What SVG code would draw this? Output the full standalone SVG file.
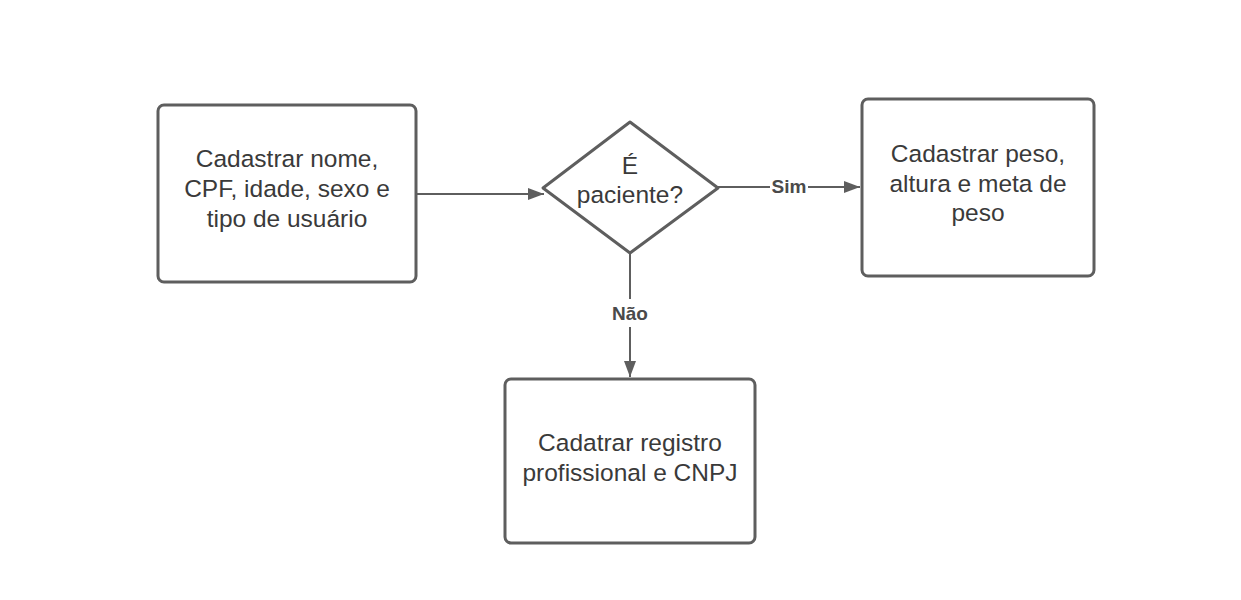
<svg xmlns="http://www.w3.org/2000/svg" width="1241" height="600" viewBox="0 0 1241 600">
<defs>
<style>
.box{fill:#fff;stroke:#5e5e5e;stroke-width:3}
.t{font-family:"Liberation Sans",Arial,sans-serif;font-size:24.5px;fill:#3a3a3a;text-anchor:middle}
.lbl{font-family:"Liberation Sans",Arial,sans-serif;font-size:19px;font-weight:bold;fill:#4a4a4a;text-anchor:middle}
.c{stroke:#5e5e5e;stroke-width:2;fill:none}
</style>
<marker id="ah" markerWidth="16" markerHeight="12" refX="16" refY="6" orient="auto" markerUnits="userSpaceOnUse">
<path d="M0,0 L16,6 L0,12 Z" fill="#5e5e5e"/>
</marker>
</defs>
<rect width="1241" height="600" fill="#fff"/>
<g id="connectors">
<line class="c" x1="417" y1="194" x2="544" y2="194" marker-end="url(#ah)"/>
<line class="c" x1="718" y1="187" x2="770" y2="187"/>
<line class="c" x1="808" y1="187" x2="860" y2="187" marker-end="url(#ah)"/>
<line class="c" x1="630" y1="253" x2="630" y2="299" stroke-width="3"/>
<line class="c" x1="630" y1="327" x2="630" y2="377" stroke-width="3" marker-end="url(#ah)"/>
<text class="lbl" x="789" y="193">Sim</text>
<text class="lbl" x="630" y="320">Não</text>
</g>
<g id="node1">
<rect class="box" x="158" y="105" width="258" height="177" rx="6"/>
<text class="t" x="287" y="167">Cadastrar nome,</text>
<text class="t" x="287" y="197">CPF, idade, sexo e</text>
<text class="t" x="287" y="227">tipo de usuário</text>
</g>
<g id="decision">
<path class="box" stroke-linejoin="round" d="M630,122 L718,188 L630,253 L543,188 Z"/>
<text class="t" x="630" y="174">É</text>
<text class="t" x="630" y="203">paciente?</text>
</g>
<g id="node3">
<rect class="box" x="862" y="99" width="232" height="177" rx="6"/>
<text class="t" x="978" y="162">Cadastrar peso,</text>
<text class="t" x="978" y="192">altura e meta de</text>
<text class="t" x="978" y="221">peso</text>
</g>
<g id="node4">
<rect class="box" x="505" y="379" width="250" height="164" rx="6"/>
<text class="t" x="630" y="451">Cadatrar registro</text>
<text class="t" x="630" y="481">profissional e CNPJ</text>
</g>
</svg>
